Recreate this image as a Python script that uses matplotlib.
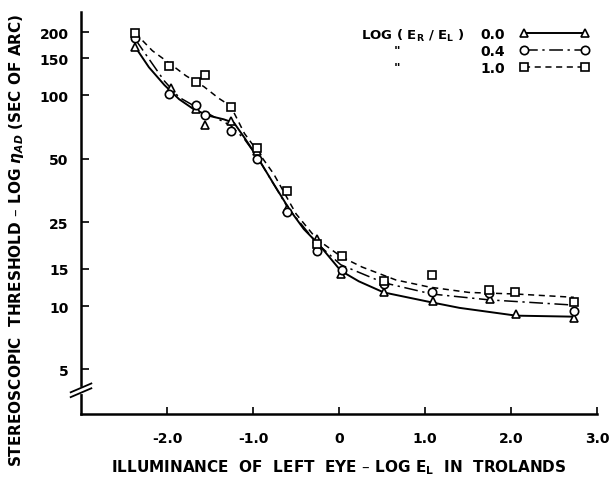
import matplotlib
matplotlib.use("Agg")
import matplotlib.pyplot as plt
from matplotlib.lines import Line2D
from matplotlib.ticker import FixedLocator, NullLocator

plt.rcParams['font.family'] = ['DejaVu Sans']
plt.rcParams['font.weight'] = 'bold'

# --- measured points, log(E_R/E_L) = 0.0 (triangles)
x_00 = [-2.37, -1.95, -1.66, -1.56, -1.26, -0.95, -0.60, -0.26, 0.02, 0.52, 1.09, 1.76, 2.06, 2.73]
y_00 = [170, 108, 86, 72, 76, 54.5, 29, 20.8, 14.2, 11.6, 10.6, 10.8, 9.2, 8.8]

# --- log(E_R/E_L) = 0.4 (circles)
x_04 = [-2.37, -1.98, -1.66, -1.56, -1.26, -0.95, -0.60, -0.26, 0.03, 0.52, 1.08, 1.74, 2.73]
y_04 = [188, 102, 90, 81, 68, 50, 28, 18.2, 14.8, 12.7, 11.6, 11.5, 9.5]

# --- log(E_R/E_L) = 1.0 (squares)
x_10 = [-2.37, -1.98, -1.66, -1.56, -1.26, -0.95, -0.60, -0.26, 0.03, 0.52, 1.08, 1.74, 2.05, 2.73]
y_10 = [198, 138, 116, 125, 88, 56, 35, 19.7, 17.3, 13.1, 14.0, 11.9, 11.6, 10.4]

# --- hand drawn curves
cx_00 = [-2.37, -2.21, -2.03, -1.86, -1.69, -1.51, -1.34, -1.22, -1.10, -0.95, -0.76, -0.58,
         -0.41, -0.23, 0.02, 0.23, 0.52, 1.08, 1.40, 2.06, 2.73]
cy_00 = [170, 136, 112, 96, 86, 80, 77, 74, 63, 51, 38, 28.9, 23.2, 19.5, 14.7, 13.1, 11.6,
         10.4, 9.8, 9.0, 8.9]

cx_04 = [-2.37, -2.21, -2.03, -1.86, -1.66, -1.45, -1.26, -1.10, -0.95, -0.60, -0.26, 0.02,
         0.52, 1.08, 1.74, 2.73]
cy_04 = [185, 149, 117, 98, 88, 79, 72, 62, 51, 29.5, 19.9, 15.7, 12.9, 11.4, 10.7, 10.1]

cx_10 = [-2.37, -2.17, -1.98, -1.78, -1.57, -1.40, -1.26, -1.10, -0.95, -0.76, -0.50, -0.26,
         0.03, 0.27, 0.66, 1.05, 1.51, 2.06, 2.73]
cy_10 = [198, 163, 143, 124, 110, 97, 89, 66, 54.5, 42.4, 27.4, 20.8, 17.1, 15.3, 13.3, 12.3,
         11.6, 11.4, 11.0]

y_ticks = [5, 10, 15, 25, 50, 100, 150, 200]
x_ticks = [-2, -1, 0, 1, 2, 3]
x_tick_labels = ['-2.0', '-1.0', '0', '1.0', '2.0', '3.0']
legend_labels = ['0.0', '0.4', '1.0']

fig = plt.figure(figsize=(6.1, 4.85), dpi=100)
ax = fig.add_axes([0.1328, 0.1443, 0.846, 0.8289])

ax.set_yscale('log')
ax.set_xlim(-3, 3)
ax.set_ylim(3.07, 249)

ls_04 = (0, (9, 3, 1.5, 3))
ls_10 = (0, (4, 3))
ax.plot(cx_00, cy_00, color='black', lw=1.4, ls='-')
ax.plot(cx_04, cy_04, color='black', lw=1.1, ls=ls_04)
ax.plot(cx_10, cy_10, color='black', lw=1.1, ls=ls_10)
mk = dict(ls='none', mfc='white', mec='black', mew=1.2, zorder=3)
ax.plot(x_00, y_00, marker='^', ms=6, **mk)
ax.plot(x_04, y_04, marker='o', ms=6, **mk)
ax.plot(x_10, y_10, marker='s', ms=5.5, **mk)

for s in ['top', 'right']:
    ax.spines[s].set_visible(False)
for s in ['left', 'bottom']:
    ax.spines[s].set_linewidth(1.8)

ax.yaxis.set_major_locator(FixedLocator(y_ticks))
ax.yaxis.set_minor_locator(NullLocator())
ax.set_yticklabels([str(v) for v in y_ticks])
ax.set_xticks(x_ticks)
ax.set_xticklabels(x_tick_labels)
ax.tick_params(axis='y', direction='in', length=6, width=1.2, pad=9, labelsize=10)
ax.tick_params(axis='x', direction='in', length=5, width=1.2, pad=12, labelsize=10)

# axis break on the y axis
bt = ax.transAxes
ax.plot([-0.02, 0.02], [0.042, 0.064], transform=bt, color='black', lw=1.3, clip_on=False, zorder=5)
ax.plot([-0.02, 0.02], [0.054, 0.076], transform=bt, color='black', lw=1.3, clip_on=False, zorder=5)
ax.plot([0, 0], [0.055, 0.063], transform=bt, color='white', lw=3, clip_on=False, zorder=4)

# legend
handles = [
    Line2D([], [], color='black', lw=1.4, ls='-', marker='^', mfc='white', mec='black', mew=1.2, ms=6),
    Line2D([], [], color='black', lw=1.1, ls=ls_04, marker='o', mfc='white', mec='black', mew=1.2, ms=6),
    Line2D([], [], color='black', lw=1.1, ls=ls_10, marker='s', mfc='white', mec='black', mew=1.2, ms=5.5),
]
ax.legend(handles, legend_labels, loc='upper right', bbox_to_anchor=(0.985, 0.962),
          frameon=False, markerfirst=False, numpoints=2, handlelength=5.0,
          handletextpad=1.1, labelspacing=0.2, borderpad=0, borderaxespad=0, fontsize=10)
ax.text(0.744, 0.944, r'LOG ( E$_\mathbf{R}$ / E$_\mathbf{L}$ )', transform=bt, fontsize=9.5,
        ha='right', va='center')
ax.text(0.612, 0.903, '"', transform=bt, fontsize=9, ha='center', va='center')
ax.text(0.612, 0.862, '"', transform=bt, fontsize=9, ha='center', va='center')

ax.set_xlabel(r'ILLUMINANCE  OF  LEFT  EYE – LOG E$_\mathbf{L}$  IN  TROLANDS', fontsize=11,
              fontweight='bold', labelpad=9)
fig.text(0.027, 0.505, r'STEREOSCOPIC  THRESHOLD – LOG $\eta_{AD}$ (SEC OF ARC)',
         rotation=90, ha='center', va='center', fontsize=11)

fig.savefig('out.png', dpi=100)
